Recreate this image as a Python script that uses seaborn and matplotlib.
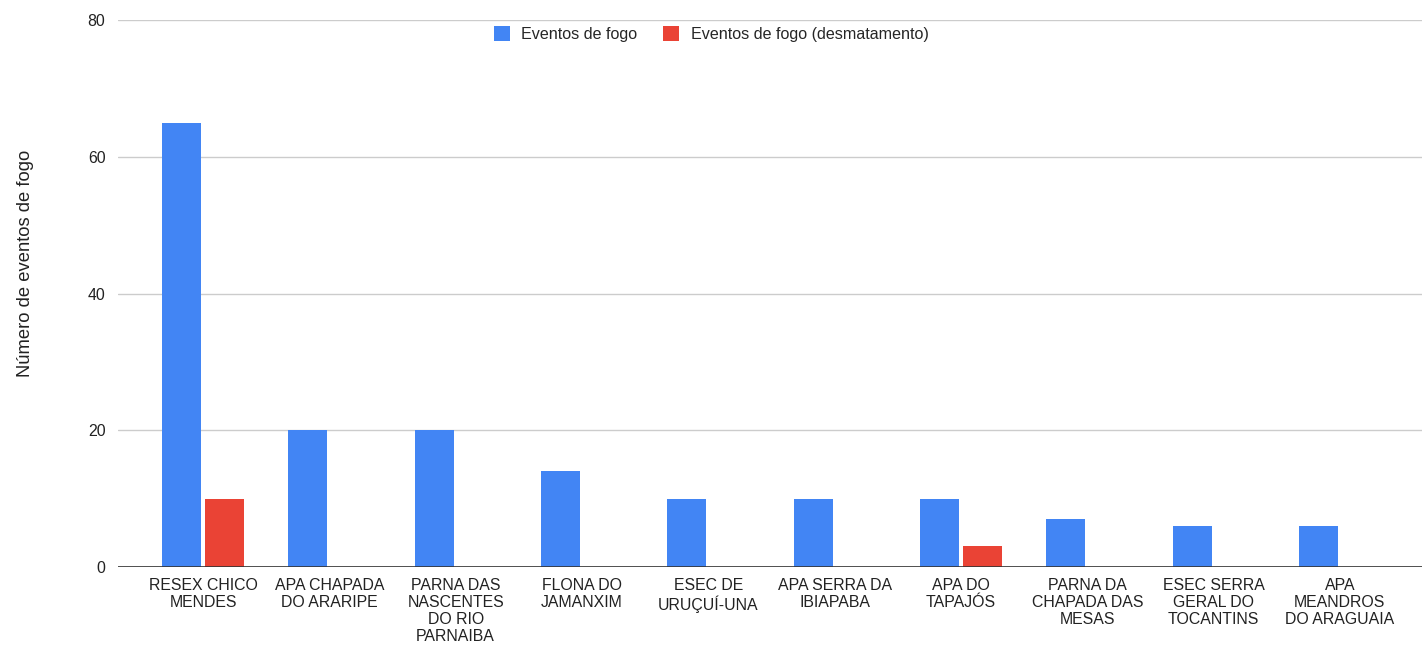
import matplotlib
matplotlib.use("Agg")
import matplotlib.pyplot as plt
import seaborn as sns
import pandas as pd

# dados
categorias = [
    "RESEX CHICO\nMENDES",
    "APA CHAPADA\nDO ARARIPE",
    "PARNA DAS\nNASCENTES\nDO RIO\nPARNAIBA",
    "FLONA DO\nJAMANXIM",
    "ESEC DE\nURUÇUÍ-UNA",
    "APA SERRA DA\nIBIAPABA",
    "APA DO\nTAPAJÓS",
    "PARNA DA\nCHAPADA DAS\nMESAS",
    "ESEC SERRA\nGERAL DO\nTOCANTINS",
    "APA\nMEANDROS\nDO ARAGUAIA",
]
eventos_fogo = [65, 20, 20, 14, 10, 10, 10, 7, 6, 6]
eventos_desmatamento = [10, 0, 0, 0, 0, 0, 3, 0, 0, 0]
series = ["Eventos de fogo", "Eventos de fogo (desmatamento)"]
cores = ["#4285F4", "#EA4335"]
y_ticks = [0, 20, 40, 60, 80]

df = pd.DataFrame({
    "categoria": categorias * 2,
    "valor": eventos_fogo + eventos_desmatamento,
    "serie": [series[0]] * len(categorias) + [series[1]] * len(categorias),
})

sns.set_style("white")
plt.rcParams["font.family"] = ["Liberation Sans", "DejaVu Sans"]

fig = plt.figure(figsize=(14.22, 6.49), dpi=100)
ax = fig.add_axes([118 / 1422, 1 - 567 / 649, 1 - 118 / 1422, (567 - 20) / 649])

sns.barplot(data=df, x="categoria", y="valor", hue="serie", order=categorias,
            hue_order=series, palette=cores, width=0.68, gap=0.09,
            saturation=1, linewidth=0, ax=ax, legend=True)

ax.set_ylim(0, 80)
ax.set_xlim(-0.673, 9.65)
ax.set_yticks(y_ticks)
ax.yaxis.grid(True, color="#cccccc", linewidth=1)
ax.set_axisbelow(True)
ax.axhline(0, color="#333333", linewidth=1.2, zorder=5)
for s in ax.spines.values():
    s.set_visible(False)
ax.tick_params(axis="both", length=0, labelsize=11.4, colors="#222222")
ax.tick_params(axis="x", pad=8)
ax.tick_params(axis="y", pad=9)
for lbl in ax.get_xticklabels():
    lbl.set_linespacing(1.15)
ax.set_xlabel("")
ax.set_ylabel("")
fig.text(26 / 1422, 1 - 263 / 649, "Número de eventos de fogo", rotation=90,
         ha="center", va="center", fontsize=13.2, color="#222222")

ax.legend(loc="upper center", bbox_to_anchor=(0.455, 1.0), ncol=2, frameon=False,
          fontsize=11.6, handlelength=1.0, handleheight=1.0, columnspacing=1.6,
          handletextpad=0.7, borderaxespad=0.0)

fig.savefig("out.png", dpi=100)
